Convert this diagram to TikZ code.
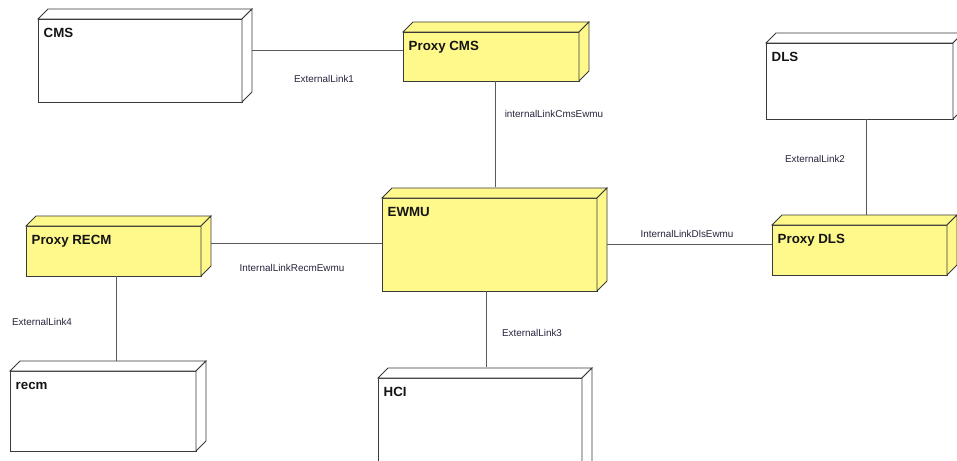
\documentclass[tikz,border=0pt]{standalone}
\usepackage{fontspec}
\setmainfont{Liberation Sans}
\usetikzlibrary{positioning,calc}
\definecolor{ink}{HTML}{141414}
\definecolor{edge}{HTML}{3A3A3A}
\definecolor{wire}{HTML}{5A5A5A}
\definecolor{lbltext}{HTML}{24243C}
\definecolor{proxy}{HTML}{FFF98C}
\tikzset{
  every picture/.style={line join=miter},
  node3d/.style={draw=edge, fill=white, line width=0.9pt, anchor=north west,
    inner sep=0pt, outer sep=0pt},
  proxy3d/.style={node3d, fill=proxy},
  title/.style={font=\fontsize{13.3}{15}\selectfont\bfseries, text=ink,
    anchor=base west, inner sep=0pt, xshift=5.5pt, yshift=-18.3pt},
  face/.style={draw=edge, line width=0.9pt},
  wire/.style={draw=wire, line width=1pt},
  lbl/.style={font=\fontsize{9.9}{11}\selectfont, text=lbltext, inner sep=0pt},
}

\begin{document}
\begin{tikzpicture}[x=1pt, y=1pt]
  \useasboundingbox (0,0) rectangle (957,-460);

  % ---------------- outside systems ----------------
  \node[node3d, minimum width=204pt, minimum height=83pt, label={[title]north west:CMS}] (cms) at (38,-19) {};
  \node[node3d, minimum width=187pt, minimum height=76pt, label={[title]north west:DLS}] (dls) at (766,-43) {};
  \node[node3d, minimum width=186pt, minimum height=80pt, label={[title]north west:recm}] (recm) at (10,-371) {};
  \node[node3d, minimum width=204pt, minimum height=100pt, label={[title]north west:HCI}] (hci) at (378,-378) {};

  % ---------------- proxies and core ----------------
  \node[proxy3d, minimum width=176pt, minimum height=49pt, label={[title]north west:Proxy CMS}] (pcms) at (403,-32) {};
  \node[proxy3d, minimum width=175pt, minimum height=50pt, label={[title]north west:Proxy DLS}] (pdls) at (772,-225) {};
  \node[proxy3d, minimum width=175pt, minimum height=50pt, label={[title]north west:Proxy RECM}] (precm) at (26,-226) {};
  \node[proxy3d, minimum width=215pt, minimum height=93pt, label={[title]north west:EWMU}] (ewmu) at (382,-198) {};

  % top and side faces
  \foreach \n/\c in {cms/white, dls/white, recm/white, hci/white,
                     pcms/proxy, pdls/proxy, precm/proxy, ewmu/proxy} {
    \filldraw[face, fill=\c] (\n.north west) -- ++(10pt,10pt) -- ([shift={(10pt,10pt)}]\n.north east)
      -- (\n.north east) -- cycle;
    \filldraw[face, fill=\c] (\n.north east) -- ++(10pt,10pt) -- ([shift={(10pt,10pt)}]\n.south east)
      -- (\n.south east) -- cycle;
  }

  % ---------------- links ----------------
  \draw[wire] ([xshift=10pt,yshift=9.5pt]cms.east) -- node[lbl, xshift=-3.5pt, yshift=-28pt] {ExternalLink1} ([yshift=5.5pt]pcms.west);
  \draw[wire] ([xshift=4pt]pcms.south) -- node[lbl, xshift=59pt, yshift=20pt] {internalLinkCmsEwmu} ([xshift=5.5pt,yshift=11pt]ewmu.north);
  \draw[wire] ([xshift=6.5pt]dls.south) -- node[lbl, xshift=-51pt, yshift=8pt] {ExternalLink2} ([xshift=6.5pt,yshift=10pt]pdls.north);
  \draw[wire] ([xshift=10pt]ewmu.east) -- node[lbl, xshift=-2.5pt, yshift=11pt] {InternalLinkDlsEwmu} ([yshift=5.5pt]pdls.west);
  \draw[wire] ([xshift=10pt,yshift=8pt]precm.east) -- node[lbl, xshift=-4.5pt, yshift=-25pt] {InternalLinkRecmEwmu} ([yshift=1.5pt]ewmu.west);
  \draw[wire] ([xshift=2.5pt]precm.south) -- node[lbl, xshift=-74pt, yshift=-3.5pt] {ExternalLink4} ([xshift=13pt,yshift=10pt]recm.north);
  \draw[wire] ([xshift=-3.5pt]ewmu.south) -- node[lbl, xshift=46pt, yshift=-4pt] {ExternalLink3} ([xshift=6pt,yshift=11pt]hci.north);
\end{tikzpicture}
\end{document}
